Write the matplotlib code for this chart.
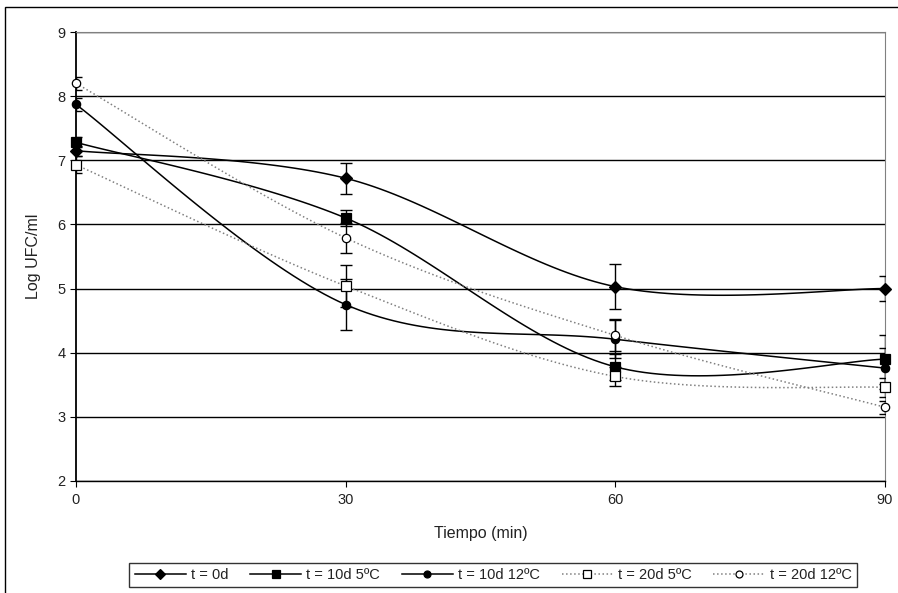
import numpy as np
import matplotlib.pyplot as plt
from matplotlib.patches import Rectangle

plt.rcParams['font.family'] = ['Liberation Sans', 'DejaVu Sans']

# data
tiempo = [0, 30, 60, 90]
series_names = ['t = 0d', 't = 10d 5ºC', 't = 10d 12ºC', 't = 20d 5ºC', 't = 20d 12ºC']
t0d = [7.15, 6.72, 5.03, 5.0]
t10d_5 = [7.28, 6.10, 3.78, 3.90]
t10d_12 = [7.87, 4.75, 4.21, 3.76]
t20d_5 = [6.93, 5.04, 3.63, 3.46]
t20d_12 = [8.20, 5.79, 4.27, 3.15]
err_t0d = [0.08, 0.24, 0.35, 0.20]
err_t10d_5 = [0.08, 0.12, 0.20, 0.38]
err_t10d_12 = [0.10, 0.40, 0.30, 0.32]
err_t20d_5 = [0.13, 0.33, 0.15, 0.15]
err_t20d_12 = [0.10, 0.24, 0.25, 0.10]


def smooth(x, y, n=40):
    # Excel-like smoothed line: cubic Bezier with Catmull-Rom control points
    x = np.asarray(x, float)
    y = np.asarray(y, float)
    p = np.column_stack([x, y])
    pts = []
    for i in range(len(p) - 1):
        p0 = p[i - 1] if i > 0 else p[i]
        p3 = p[i + 2] if i + 2 < len(p) else p[i + 1]
        c1 = p[i] + (p[i + 1] - p0) / 6.0
        c2 = p[i + 1] - (p3 - p[i]) / 6.0
        t = np.linspace(0, 1, n)[:, None]
        seg = ((1 - t) ** 3) * p[i] + 3 * ((1 - t) ** 2) * t * c1 + 3 * (1 - t) * t ** 2 * c2 + t ** 3 * p[i + 1]
        pts.append(seg if i == 0 else seg[1:])
    pts = np.vstack(pts)
    return pts[:, 0], pts[:, 1]


fig = plt.figure(figsize=(8.98, 5.93), dpi=100)
ax = fig.add_axes([76 / 898, 1 - 481 / 593, 809 / 898, 449 / 593])

styles = [
    dict(vals=t0d, err=err_t0d, marker='D', ms=6, mfc='black', ls='-', color='black', lw=1.1),
    dict(vals=t10d_5, err=err_t10d_5, marker='s', ms=7, mfc='black', ls='-', color='black', lw=1.1),
    dict(vals=t10d_12, err=err_t10d_12, marker='o', ms=6, mfc='black', ls='-', color='black', lw=1.1),
    dict(vals=t20d_5, err=err_t20d_5, marker='s', ms=7, mfc='white', ls=':', color='#808080', lw=1.1),
    dict(vals=t20d_12, err=err_t20d_12, marker='o', ms=6, mfc='white', ls=':', color='#808080', lw=1.1),
]

handles = []
for name, s in zip(series_names, styles):
    sx, sy = smooth(tiempo, s['vals'])
    ax.plot(sx, sy, ls=s['ls'], color=s['color'], lw=s['lw'], zorder=3)
    ax.errorbar(tiempo, s['vals'], yerr=s['err'], fmt='none', ecolor='black',
                elinewidth=1.0, capsize=4, capthick=1.0, zorder=4)
    ax.plot(tiempo, s['vals'], ls='none', marker=s['marker'], ms=s['ms'],
            mfc=s['mfc'], mec='black', mew=0.9, zorder=5, clip_on=False)
    h, = ax.plot([], [], ls=s['ls'], color=s['color'], lw=s['lw'], marker=s['marker'],
                 ms=s['ms'] - 1, mfc=s['mfc'], mec='black', mew=0.9)
    handles.append(h)

ax.set_xlim(0, 90)
ax.set_ylim(2, 9)
ax.set_xticks(tiempo)
ax.set_yticks(range(2, 10))
ax.yaxis.grid(True, color='black', lw=1.0)
ax.set_axisbelow(True)
for side in ['top', 'right']:
    ax.spines[side].set_color('#808080')
    ax.spines[side].set_linewidth(0.8)
ax.spines['left'].set_linewidth(1.3)
ax.spines['bottom'].set_linewidth(1.0)
ax.tick_params(axis='both', direction='out', length=4, width=0.8, labelsize=10.5,
               color='black', labelcolor='#222222')
ax.tick_params(axis='x', pad=5)
ax.set_xlabel('Tiempo (min)', fontsize=11.5, labelpad=13, color='#222222')
ax.set_ylabel('Log UFC/ml', fontsize=11.5, labelpad=12, color='#222222')

leg = fig.legend(handles, series_names, loc='center', bbox_to_anchor=(493 / 898, 1 - 575 / 593),
                 ncol=5, fontsize=10.5, frameon=True, fancybox=False, edgecolor='black',
                 handlelength=3.5, handletextpad=0.35, columnspacing=1.5, borderpad=0.35)
leg.get_frame().set_linewidth(1.0)
for txt in leg.get_texts():
    txt.set_color('#222222')

fig.patches.append(Rectangle((5 / 898, -0.05), 1.0, 1 - 7 / 593 + 0.05, transform=fig.transFigure,
                             fill=False, edgecolor='black', lw=1.0, clip_on=False))

fig.savefig('out.png', dpi=100)
